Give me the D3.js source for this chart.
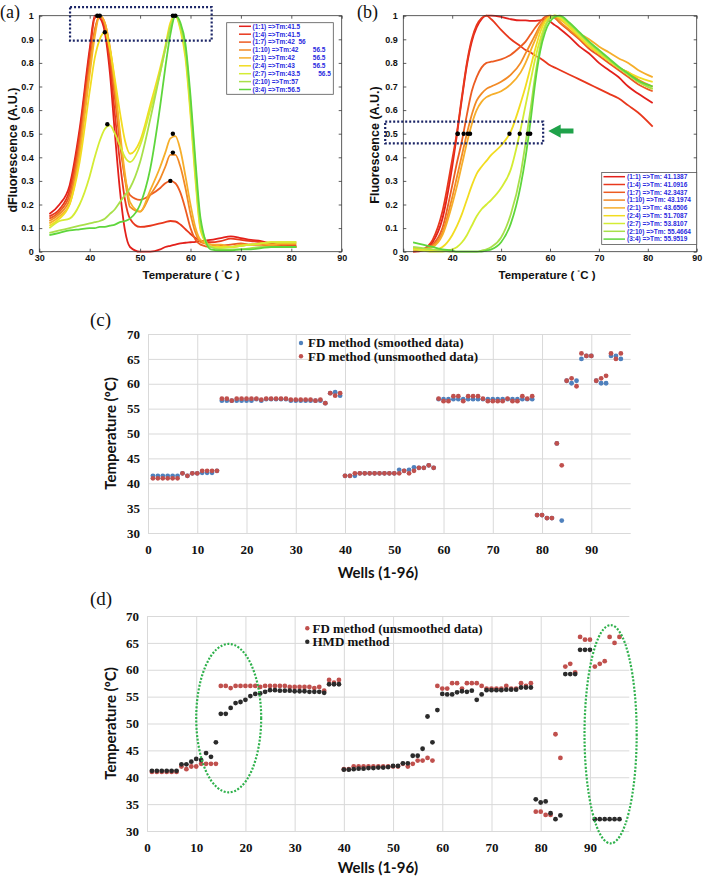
<!DOCTYPE html>
<html><head><meta charset="utf-8">
<script src="https://cdn.jsdelivr.net/npm/d3@7"></script>
<style>html,body{margin:0;padding:0;background:#fff;} svg{display:block;}</style>
</head><body>
<script>
// ================= DATA =================
const temps = [32,34,36,38,40,41,42,43,44,45,46,47,48,50,52,54,55,56,57,58,59,60,61,62,64,66,68,70,72,74,76,78,81];
const seriesNames = ["(1:1)","(1:4)","(1:7)","(1:10)","(2:1)","(2:4)","(2:7)","(2:10)","(3:4)"];
const lineColors = ["#e3201b","#e8381d","#ec5c22","#f28a25","#f6ae2a","#f2dc20","#d4ec34","#a8e04a","#5ed63c"];

// (a) dFluorescence
const dF_1_1  = [0.16,0.2,0.28,0.52,0.86,1.0,0.99,0.93,0.76,0.5,0.26,0.09,0.02,0.0,0.0,0.01,0.02,0.025,0.03,0.035,0.038,0.04,0.042,0.045,0.05,0.058,0.065,0.058,0.05,0.045,0.035,0.03,0.025];
const dF_1_4  = [0.15,0.18,0.26,0.5,0.84,0.99,1.0,0.95,0.8,0.58,0.38,0.22,0.14,0.105,0.11,0.12,0.125,0.13,0.128,0.115,0.095,0.075,0.058,0.045,0.04,0.045,0.055,0.05,0.045,0.04,0.03,0.025,0.02];
const dF_1_7  = [0.14,0.17,0.24,0.47,0.8,0.94,1.0,0.96,0.83,0.65,0.46,0.31,0.24,0.22,0.24,0.27,0.29,0.3,0.29,0.25,0.18,0.1,0.05,0.03,0.02,0.025,0.03,0.035,0.03,0.03,0.025,0.02,0.02];
const dF_1_10 = [0.13,0.16,0.22,0.44,0.78,0.93,1.0,0.97,0.86,0.69,0.49,0.31,0.19,0.17,0.24,0.31,0.36,0.41,0.41,0.36,0.27,0.16,0.08,0.04,0.03,0.02,0.02,0.025,0.03,0.03,0.025,0.03,0.03];
const dF_2_1  = [0.12,0.15,0.2,0.41,0.75,0.91,1.0,0.97,0.87,0.71,0.51,0.33,0.21,0.17,0.26,0.36,0.42,0.48,0.49,0.43,0.32,0.2,0.1,0.05,0.03,0.03,0.02,0.03,0.03,0.035,0.03,0.035,0.035];
const dF_2_4  = [0.11,0.14,0.2,0.38,0.68,0.82,0.9,0.93,0.86,0.73,0.59,0.47,0.415,0.47,0.62,0.78,0.87,0.97,1.0,0.94,0.82,0.58,0.3,0.09,0.02,0.02,0.02,0.025,0.03,0.035,0.04,0.04,0.04];
const dF_2_7  = [0.1,0.13,0.14,0.2,0.32,0.4,0.47,0.52,0.535,0.5,0.45,0.4,0.38,0.45,0.6,0.76,0.86,0.95,1.0,0.95,0.84,0.6,0.32,0.1,0.02,0.015,0.02,0.025,0.03,0.035,0.04,0.04,0.04];
const dF_2_10 = [0.08,0.09,0.1,0.11,0.12,0.125,0.13,0.14,0.16,0.18,0.21,0.24,0.27,0.38,0.56,0.76,0.86,0.95,1.0,0.96,0.86,0.63,0.35,0.12,0.02,0.01,0.01,0.01,0.015,0.02,0.02,0.02,0.02];
const dF_3_4  = [0.07,0.08,0.09,0.095,0.1,0.1,0.105,0.105,0.11,0.115,0.125,0.13,0.14,0.2,0.35,0.62,0.78,0.92,1.0,0.97,0.88,0.66,0.38,0.14,0.01,0.005,0.005,0.01,0.01,0.015,0.02,0.02,0.02];

// (b) Fluorescence
const F_1_1  = [0,0.005,0.04,0.14,0.36,0.5,0.65,0.79,0.89,0.95,0.985,1.0,1.0,0.995,0.985,0.98,0.98,0.978,0.978,0.98,0.985,0.975,0.96,0.945,0.91,0.87,0.84,0.8,0.77,0.74,0.7,0.67,0.63];
const F_1_4  = [0,0.01,0.05,0.17,0.39,0.51,0.66,0.8,0.9,0.96,0.99,1.0,0.985,0.94,0.9,0.87,0.855,0.845,0.83,0.82,0.805,0.79,0.78,0.77,0.75,0.73,0.71,0.69,0.67,0.65,0.62,0.59,0.53];
const F_1_7  = [0.01,0.01,0.03,0.1,0.28,0.38,0.47,0.58,0.68,0.74,0.78,0.8,0.805,0.815,0.835,0.87,0.89,0.92,0.95,0.975,0.995,1.0,0.99,0.97,0.935,0.9,0.86,0.83,0.8,0.77,0.74,0.71,0.68];
const F_1_10 = [0.015,0.01,0.025,0.08,0.23,0.32,0.41,0.5,0.58,0.64,0.67,0.69,0.7,0.72,0.75,0.8,0.84,0.88,0.92,0.96,0.985,1.0,0.995,0.975,0.94,0.905,0.87,0.84,0.81,0.78,0.76,0.73,0.7];
const F_2_1  = [0.015,0.01,0.02,0.07,0.2,0.28,0.37,0.46,0.54,0.6,0.635,0.655,0.665,0.68,0.71,0.76,0.8,0.85,0.9,0.95,0.98,0.995,1.0,0.985,0.955,0.925,0.9,0.87,0.845,0.82,0.8,0.77,0.74];
const F_2_4  = [0.01,0.01,0.005,0.02,0.07,0.11,0.16,0.22,0.28,0.33,0.36,0.385,0.41,0.45,0.51,0.63,0.7,0.78,0.86,0.93,0.975,0.995,1.0,0.99,0.95,0.91,0.87,0.84,0.81,0.78,0.76,0.74,0.72];
const F_2_7  = [0.01,0.005,0,0,0.01,0.02,0.04,0.07,0.11,0.15,0.18,0.2,0.22,0.27,0.35,0.52,0.62,0.72,0.82,0.9,0.96,0.99,1.0,0.995,0.96,0.92,0.88,0.845,0.81,0.78,0.75,0.72,0.69];
const F_2_10 = [0.02,0.015,0.01,0.005,0,0,0,0,0,0,0.005,0.01,0.02,0.06,0.16,0.33,0.46,0.6,0.75,0.87,0.95,0.99,1.0,0.998,0.965,0.925,0.885,0.85,0.815,0.78,0.75,0.72,0.69];
const F_3_4  = [0.04,0.03,0.02,0.01,0.005,0,0,0,0,0,0,0.005,0.01,0.04,0.12,0.28,0.4,0.55,0.72,0.85,0.93,0.975,0.995,1.0,0.97,0.93,0.89,0.855,0.82,0.785,0.755,0.725,0.7];

const legendA = ["(1:1) =>Tm:41.5","(1:4) =>Tm:41.5","(1:7) =>Tm:42  56","(1:10) =>Tm:42        56.5","(2:1) =>Tm:42          56.5","(2:4) =>Tm:43          56.5","(2:7) =>Tm:43.5          56.5","(2:10) =>Tm:57","(3:4) =>Tm:56.5"];
const peakA_T = [41.5,42,43,43.5,56.5,57,56.5,56.5,56];
const peakA_V = [1,1,0.93,0.54,1,1,0.5,0.42,0.3];
const tmB = [41.1387,41.0916,42.3437,43.1974,43.6506,51.7087,53.8107,55.4664,55.9519];
const xTicksAB = [30,40,50,60,70,80,90];
const yTicksAB = [0,0.1,0.2,0.3,0.4,0.5,0.6,0.7,0.8,0.9,1];

// (c)/(d) wells
const wells = d3.range(1,97);
const fdSmoothed = [41.5,41.5,41.5,41.5,41.5,41.5, 42.0,41.5,42.0,42.0,42.1,42.1,42.1,42.5,
 56.6,56.6,56.6,56.6,56.6,56.6,56.6,56.9,56.6,56.9,56.9,56.9,56.9,56.9,56.6,56.6,56.6,56.6,56.6,56.6,56.6,56.1,
 58.1,58.3,57.6,
 41.5,41.5,41.5,42.0,42.0,42.0,42.0,42.0,42.0,42.0,42.0,42.7,42.5,42.7,43.2,43.1,43.1,43.6,43.1,
 56.9,56.9,56.9,56.9,56.9,56.9,56.9,56.9,56.9,56.9,56.9,56.9,56.9,56.9,56.9,56.9,56.9,56.9,56.9,56.9,
 33.6,33.6,33.0,33.0,48.0,32.5,
 60.6,60.1,60.6,65.0,65.6,65.6,60.6,60.1,60.1,65.6,65.6,65.0];
const fdUnsmoothed = [41.0,41.0,41.0,41.0,41.0,41.0, 42.0,41.5,42.0,42.0,42.5,42.5,42.5,42.5,
 57.0,57.0,56.6,57.0,57.0,57.0,57.0,57.0,56.8,57.0,57.0,57.0,57.0,57.0,56.8,56.8,56.8,56.8,56.8,56.6,56.8,56.1,
 58.1,57.6,58.1,
 41.5,41.5,42.0,42.0,42.0,42.0,42.0,42.0,42.0,42.0,42.0,42.0,42.5,42.0,42.5,43.1,43.1,43.6,43.1,
 57.0,56.5,56.5,57.5,57.5,56.5,57.5,57.5,57.5,57.0,56.5,56.5,56.5,56.5,57.0,56.5,56.5,57.5,57.0,57.5,
 33.6,33.6,33.0,33.0,48.0,43.6,
 60.6,61.1,59.5,66.1,65.6,65.6,60.6,61.1,61.6,66.1,65.0,66.1];
const hmd = [41.2,41.2,41.2,41.2,41.2,41.2, 42.4,42.4,42.9,43.4,43.2,44.5,43.8,46.5,
 51.8,51.8,52.9,53.8,54.0,54.4,55.1,55.5,55.6,55.9,56.2,56.2,56.1,56.1,56.1,56.0,56.0,56.0,55.9,55.9,55.9,55.7,
 57.3,57.3,57.3,
 41.4,41.4,41.5,41.6,41.6,41.7,41.7,41.8,41.8,41.9,42.1,42.1,42.6,42.6,44.0,44.0,45.3,51.3,46.5,
 52.5,55.5,55.4,55.4,55.8,56.0,55.9,56.1,54.4,55.4,56.2,56.2,56.2,56.2,56.3,56.3,56.3,56.7,56.7,56.7,
 35.9,35.3,35.5,33.3,32.2,32.9,
 59.2,59.2,59.2,63.7,63.7,63.7,32.2,32.2,32.2,32.2,32.2,32.2];
const xTicksCD = [0,10,20,30,40,50,60,70,80,90];
const yTicksCD = [30,35,40,45,50,55,60,65,70];
// highlighted regions in (d): centre well, centre temperature, half-width (wells), half-height (degC)
const ellipseWell = [16.6, 94.2], ellipseTemp = [51.0, 48.0], ellipseRW = [6.6, 5.3], ellipseRT = [13.8, 20.3];

// ================= DRAW =================
const svg = d3.select("body").append("svg").attr("width",709).attr("height",877);
const SANS = "'Liberation Sans', Arial, sans-serif";
const SERIF = "'Liberation Serif', 'Times New Roman', serif";
const CAL = "Lato, 'Open Sans', sans-serif";

const seriesA = [dF_1_1,dF_1_4,dF_1_7,dF_1_10,dF_2_1,dF_2_4,dF_2_7,dF_2_10,dF_3_4];
const seriesB = [F_1_1,F_1_4,F_1_7,F_1_10,F_2_1,F_2_4,F_2_7,F_2_10,F_3_4];

function matlab(xs, ys, series, yTitle, yTitleX, yTitleY, xTitleX, label, labelX) {
  const g = svg.append("g");
  const [x0,x1] = xs.range(), [y0,y1] = ys.range();
  const line = d3.line().x((d,i)=>xs(temps[i])).y(d=>ys(d)).curve(d3.curveMonotoneX);
  g.append("g").selectAll("path").data(series).join("path")
    .attr("d", line).attr("fill","none").attr("stroke",(d,i)=>lineColors[i]).attr("stroke-width",1.8);
  const fmt = d3.format("~g");
  const styleAxis = (a) => { a.select(".domain").remove(); a.selectAll(".tick line").attr("stroke","#333").attr("stroke-width",0.8);
     a.selectAll("text").attr("font-family",SANS).attr("font-weight","bold").attr("font-size",9).attr("fill","#111"); };
  g.append("g").attr("transform",`translate(0,${y0})`).call(d3.axisBottom(xs).tickValues(xTicksAB).tickFormat(fmt).tickSizeInner(-3).tickSizeOuter(0).tickPadding(3.4)).call(styleAxis);
  g.append("g").attr("transform",`translate(0,${y1})`).call(d3.axisTop(xs).tickValues(xTicksAB).tickFormat("").tickSizeInner(-3).tickSizeOuter(0)).call(styleAxis);
  g.append("g").attr("transform",`translate(${x0},0)`).call(d3.axisLeft(ys).tickValues(yTicksAB).tickFormat(fmt).tickSizeInner(-3).tickSizeOuter(0).tickPadding(5.5)).call(styleAxis);
  g.append("g").attr("transform",`translate(${x1},0)`).call(d3.axisRight(ys).tickValues(yTicksAB).tickFormat("").tickSizeInner(-3).tickSizeOuter(0)).call(styleAxis);
  g.append("rect").attr("x",x0).attr("y",y1).attr("width",x1-x0).attr("height",y0-y1).attr("fill","none").attr("stroke","#333").attr("stroke-width",0.8);
  const xt = g.append("text").attr("x",xTitleX).attr("y",279).attr("text-anchor","middle")
    .attr("font-family",SANS).attr("font-weight","bold").attr("font-size",11.5).attr("fill","#111");
  xt.append("tspan").text("Temperature ( ");
  xt.append("tspan").attr("dy",-3).attr("font-size",8).text("˚");
  xt.append("tspan").attr("dy",3).text("C )");
  g.append("text").attr("transform",`translate(${yTitleX},${yTitleY}) rotate(-90)`).attr("text-anchor","middle")
    .attr("font-family",SANS).attr("font-weight","bold").attr("font-size",12.5).attr("fill","#111").text(yTitle);
  svg.append("text").attr("x",labelX).attr("y",18).attr("font-family",SERIF).attr("font-size",18).attr("fill","#111").text(label);
  return g;
}

// ---- (a)
const xA = d3.scaleLinear([30,90],[39.3,341.7]);
const yA = d3.scaleLinear([0,1],[251.7,15.7]);
const gA = matlab(xA, yA, seriesA, "dFluorescence (A.U.)", 17, 150, 191, "(a)", 0);
gA.append("g").selectAll("circle").data(peakA_T).join("circle")
  .attr("cx",d=>xA(d)).attr("cy",(d,i)=>yA(peakA_V[i])).attr("r",2.2).attr("fill","#000");
gA.append("rect").attr("x",xA(36.1)).attr("y",yA(1.036)).attr("width",xA(64.2)-xA(36.1)).attr("height",yA(0.894)-yA(1.036))
  .attr("fill","none").attr("stroke","#1b2566").attr("stroke-width",2.2).attr("stroke-dasharray","2,2");
{
  const lg = gA.append("g");
  lg.append("rect").attr("x",226.7).attr("y",22.7).attr("width",106.6).attr("height",71.6).attr("fill","#fff").attr("stroke","#555").attr("stroke-width",0.8);
  const rows = lg.selectAll("g").data(legendA).join("g").attr("transform",(d,i)=>`translate(0,${26.3+i*7.9})`);
  rows.append("line").attr("x1",239).attr("x2",251).attr("stroke",(d,i)=>lineColors[i]).attr("stroke-width",1.5);
  rows.append("text").attr("x",252.5).attr("y",2.3).attr("font-family",SANS).attr("font-weight","bold").attr("font-size",6.5)
    .attr("fill","#2a2ae0").style("white-space","pre").text(d=>d);
}

// ---- (b)
const xB = d3.scaleLinear([30,90],[403.3,696.7]);
const yB = d3.scaleLinear([0,1],[251.7,15.7]);
const gB = matlab(xB, yB, seriesB, "Fluorescence (A.U.)", 378.5, 145, 547, "(b)", 357);
gB.append("g").selectAll("circle").data(tmB).join("circle")
  .attr("cx",d=>xB(d)).attr("cy",yB(0.5)).attr("r",2.2).attr("fill","#000");
gB.append("rect").attr("x",xB(26.3)).attr("y",yB(0.551)).attr("width",xB(58.6)-xB(26.3)).attr("height",yB(0.459)-yB(0.551))
  .attr("fill","none").attr("stroke","#1b2566").attr("stroke-width",2.2).attr("stroke-dasharray","2,2");
{
  const tip = xB(59.65), base = tip+12.4, tail = xB(64.8), cy = yB(0.511);
  gB.append("path").attr("d",`M${tip},${cy} L${base},${cy-6.7} L${base},${cy-2.5} L${tail},${cy-2.5} L${tail},${cy+2.5} L${base},${cy+2.5} L${base},${cy+6.7} Z`)
    .attr("fill","#1fa24a");
  const lg = gB.append("g");
  lg.append("rect").attr("x",601.7).attr("y",172.5).attr("width",95).attr("height",72).attr("fill","#fff").attr("stroke","#555").attr("stroke-width",0.8);
  const rows = lg.selectAll("g").data(seriesNames).join("g").attr("transform",(d,i)=>`translate(0,${176.7+i*7.8})`);
  rows.append("line").attr("x1",603.5).attr("x2",625).attr("stroke",(d,i)=>lineColors[i]).attr("stroke-width",1.5);
  rows.append("text").attr("x",627).attr("y",2.3).attr("font-family",SANS).attr("font-weight","bold").attr("font-size",6.5)
    .attr("fill","#2a2ae0").text((d,i)=>`${d} =>Tm: ${tmB[i].toFixed(4)}`);
}

// ---- Excel-style panels
function excel(xs, ys, layers, legendY, legendDotX, legendTextX, xTitleY, label, labelY) {
  const g = svg.append("g");
  const [x0,x1] = xs.range(), [y0,y1] = ys.range();
  const styleAxis = (a) => { a.select(".domain").remove(); a.selectAll(".tick line").attr("stroke","#d9d9d9").attr("stroke-width",1);
    a.selectAll("text").attr("font-family",SERIF).attr("font-weight","bold").attr("font-size",13).attr("fill","#111"); };
  g.append("g").attr("transform",`translate(${x0},0)`).call(d3.axisLeft(ys).tickValues(yTicksCD).tickSize(-(x1-x0)).tickPadding(8)).call(styleAxis);
  g.append("g").attr("transform",`translate(0,${y0})`).call(d3.axisBottom(xs).tickValues(xTicksCD).tickSize(-(y0-y1)).tickPadding(11.3)).call(styleAxis);
  layers.forEach(L => {
    g.append("g").selectAll("circle").data(L.values).join("circle")
      .attr("cx",(d,i)=>xs(wells[i])).attr("cy",d=>ys(d)).attr("r",2.4).attr("fill",L.color);
  });
  layers.forEach((L,k) => {
    g.append("circle").attr("cx",legendDotX).attr("cy",legendY[k]-4.3).attr("r",2.2).attr("fill",L.color);
    g.append("text").attr("x",legendTextX).attr("y",legendY[k]).attr("font-family",SERIF).attr("font-weight","bold")
      .attr("font-size",13).attr("fill","#111").text(L.name);
  });
  g.append("text").attr("x",378).attr("y",xTitleY).attr("text-anchor","middle").attr("font-family",CAL).attr("font-weight","bold")
    .attr("font-size",15).attr("fill","#111").text("Wells (1-96)");
  g.append("text").attr("transform",`translate(116,${(y0+y1)/2}) rotate(-90)`).attr("text-anchor","middle").attr("font-family",CAL)
    .attr("font-weight","bold").attr("font-size",15).attr("fill","#111").text("Temperature (ºC)");
  svg.append("text").attr("x",90).attr("y",labelY).attr("font-family",SERIF).attr("font-size",19).attr("fill","#111").text(label);
  return g;
}

const xC = d3.scaleLinear([0,98],[148,630.7]);
const yC = d3.scaleLinear([30,70],[533,334]);
excel(xC, yC, [
  {name:"FD method (smoothed data)", values:fdSmoothed, color:"#4f81bd"},
  {name:"FD method (unsmoothed data)", values:fdUnsmoothed, color:"#c0504d"}
], [347.3, 360.6], 301, 308, 578, "(c)", 326);

const xD = d3.scaleLinear([0,98],[147,629.3]);
const yD = d3.scaleLinear([30,70],[831,616]);
const gD = excel(xD, yD, [
  {name:"FD method (unsmoothed data)", values:fdUnsmoothed, color:"#c0504d"},
  {name:"HMD method", values:hmd, color:"#2b2b2b"}
], [632.6, 646], 307.3, 312.5, 873, "(d)", 605);
gD.append("g").selectAll("ellipse").data(ellipseWell).join("ellipse")
  .attr("cx",d=>xD(d)).attr("cy",(d,i)=>yD(ellipseTemp[i]))
  .attr("rx",(d,i)=>xD(d+ellipseRW[i])-xD(d)).attr("ry",(d,i)=>yD(ellipseTemp[i]-ellipseRT[i])-yD(ellipseTemp[i]))
  .attr("fill","none").attr("stroke","#2fb14c").attr("stroke-width",2.2).attr("stroke-dasharray","2,1.6");
</script>
</body></html>
